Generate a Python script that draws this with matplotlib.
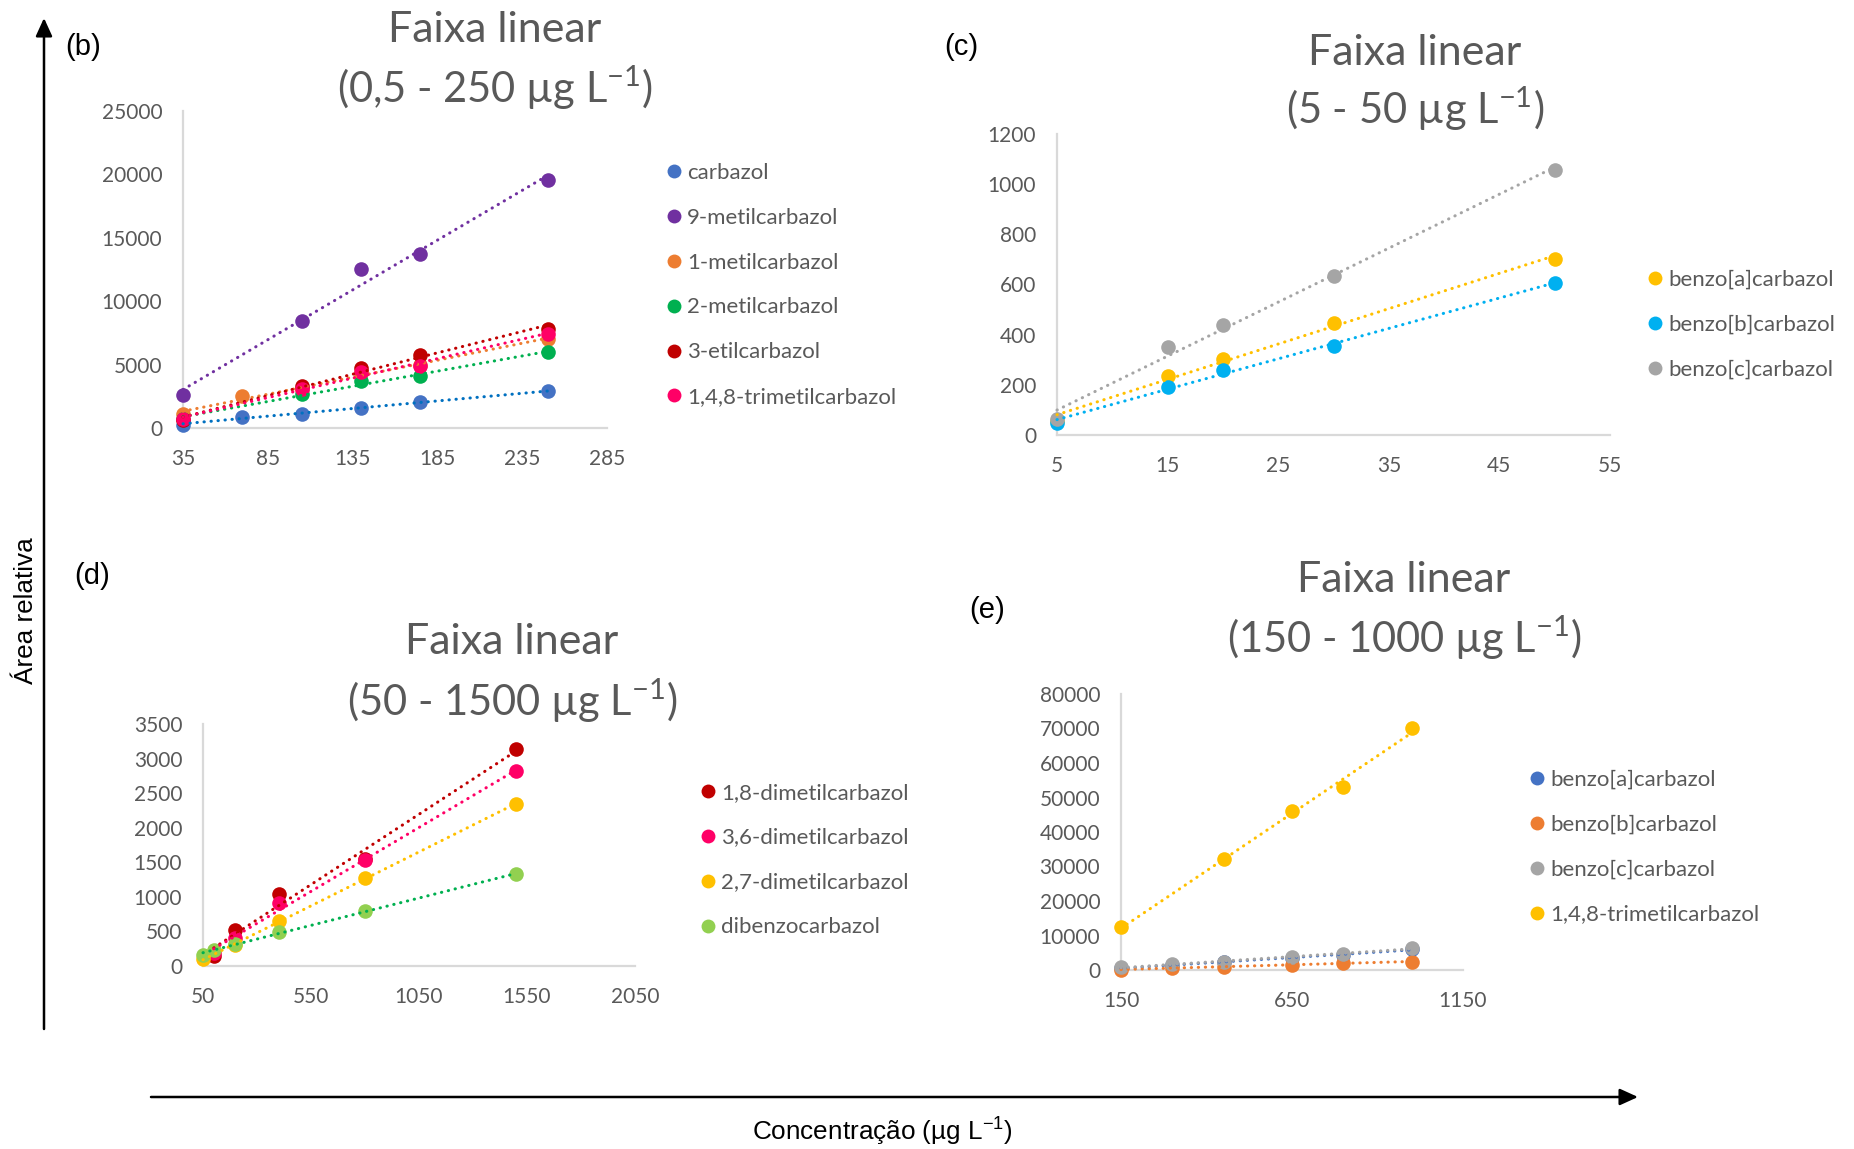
import numpy as np
import matplotlib
matplotlib.use("Agg")
import matplotlib.pyplot as plt
from matplotlib.patches import FancyArrowPatch
from matplotlib.lines import Line2D

# ---------------- data ----------------
# (b) faixa linear 0,5 - 250 ug/L
carbazol_x = [35, 70, 105, 140, 175, 250]
carbazol_y = [260, 870, 1130, 1600, 2030, 2900]
metil9_x = [35, 105, 140, 175, 250]
metil9_y = [2580, 8420, 12530, 13710, 19550]
metil1_x = [35, 70, 105, 140, 175, 250]
metil1_y = [1130, 2500, 3100, 4300, 5000, 7050]
metil2_x = [35, 105, 140, 175, 250]
metil2_y = [740, 2660, 3680, 4100, 5970]
etil3_x = [35, 105, 140, 175, 250]
etil3_y = [600, 3290, 4740, 5740, 7840]
trimetil148_x = [35, 105, 140, 175, 250]
trimetil148_y = [740, 3050, 4420, 4920, 7450]

# (c) faixa linear 5 - 50 ug/L
benzo_c_panel_x = [5, 15, 20, 30, 50]
benzo_a_y = [55, 237, 304, 447, 700]
benzo_b_y = [47, 193, 260, 353, 605]
benzo_c_y = [63, 351, 437, 633, 1057]

# (d) faixa linear 50 - 1500 ug/L
dimetil18_x = [100, 200, 400, 800, 1500]
dimetil18_y = [150, 515, 1045, 1545, 3140]
dimetil36_x = [100, 200, 400, 800, 1500]
dimetil36_y = [190, 410, 905, 1536, 2817]
dimetil27_x = [50, 200, 400, 800, 1500]
dimetil27_y = [96, 300, 650, 1270, 2345]
dibenzo_x = [50, 100, 200, 400, 800, 1500]
dibenzo_y = [160, 226, 322, 496, 799, 1324]

# (e) faixa linear 150 - 1000 ug/L
benzo_e_x = [150, 300, 450, 650, 800, 1000]
benzo_a_e_y = [600, 1500, 2200, 3400, 4400, 6100]
benzo_b_e_y = [100, 580, 970, 1550, 1940, 2430]
benzo_c_e_y = [780, 1750, 2430, 3700, 4670, 6410]
trimetil148_e_x = [150, 450, 650, 800, 1000]
trimetil148_e_y = [12440, 32070, 45970, 52970, 70260]

# ---------------- style ----------------
W, H = 1854, 1149
CHART_FONT = ['Lato', 'DejaVu Sans']
LABEL_FONT = ['Liberation Sans', 'DejaVu Sans']
GREY_TEXT = '#595959'
AXIS_GREY = '#D9D9D9'
TICK_SIZE = 15
LEGEND_SIZE = 16
TITLE_SIZE = 31
SUBTITLE_SIZE = 30

fig = plt.figure(figsize=(W / 100, H / 100), dpi=100)


def fx(px):
    return px / W


def fy(py):
    return 1 - py / H


def make_axes(left, top, right, bottom, xlim, ylim, xticks, yticks):
    ax = fig.add_axes([fx(left), fy(bottom), (right - left) / W, (bottom - top) / H])
    ax.set_xlim(*xlim)
    ax.set_ylim(*ylim)
    ax.set_xticks(xticks)
    ax.set_yticks(yticks)
    for side in ('top', 'right'):
        ax.spines[side].set_visible(False)
    for side in ('left', 'bottom'):
        ax.spines[side].set_color(AXIS_GREY)
        ax.spines[side].set_linewidth(1.6)
    ax.tick_params(length=0, labelsize=TICK_SIZE, labelcolor=GREY_TEXT)
    ax.tick_params(axis='y', pad=15)
    ax.tick_params(axis='x', pad=15)
    for lab in ax.get_xticklabels() + ax.get_yticklabels():
        lab.set_family(CHART_FONT)
    ax.patch.set_alpha(0)
    return ax


def series(ax, x, y, color, trend_color=None):
    ax.plot(x, y, linestyle='none', marker='o', markersize=10.5,
            color=color, markeredgewidth=0, zorder=3, clip_on=False)
    k, b = np.polyfit(x, y, 1)
    xs = np.array([min(x), max(x)], dtype=float)
    ax.plot(xs, k * xs + b, color=trend_color or color, lw=2.2,
            linestyle=(0, (0.1, 2.2)), dash_capstyle='round', zorder=4,
            clip_on=False)


def legend(ax, names, colors, x_px, y_px, spacing=1.12):
    handles = [Line2D([], [], linestyle='none', marker='o', markersize=10,
                      color=c, markeredgewidth=0) for c in colors]
    ax.legend(handles, names, loc='center left',
              bbox_to_anchor=(fx(x_px), fy(y_px)), bbox_transform=fig.transFigure,
              frameon=False, prop={'family': CHART_FONT, 'size': LEGEND_SIZE},
              labelcolor=GREY_TEXT, handlelength=0.55, handletextpad=0.3,
              labelspacing=spacing, borderpad=0, borderaxespad=0)


def title(cx, y1, y2, range_text):
    fig.text(fx(cx), fy(y1), 'Faixa linear', ha='center', va='center',
             fontsize=TITLE_SIZE, family=CHART_FONT, color=GREY_TEXT)
    fig.text(fx(cx), fy(y2), '(' + range_text + r' µg L$^{\mathregular{-1}}$)',
             ha='center', va='center', fontsize=SUBTITLE_SIZE, family=CHART_FONT,
             color=GREY_TEXT)


# ---------------- panel (b) ----------------
ax_b = make_axes(183, 111, 607, 428, (35, 285), (0, 25000),
                 np.arange(35, 286, 50), np.arange(0, 25001, 5000))
series(ax_b, carbazol_x, carbazol_y, '#4472C4', '#0070C0')
series(ax_b, metil9_x, metil9_y, '#7030A0')
series(ax_b, metil1_x, metil1_y, '#ED7D31')
series(ax_b, metil2_x, metil2_y, '#00B050')
series(ax_b, etil3_x, etil3_y, '#C00000')
series(ax_b, trimetil148_x, trimetil148_y, '#FF0066')
legend(ax_b, ['carbazol', '9-metilcarbazol', '1-metilcarbazol', '2-metilcarbazol',
              '3-etilcarbazol', '1,4,8-trimetilcarbazol'],
       ['#4472C4', '#7030A0', '#ED7D31', '#00B050', '#C00000', '#FF0066'], 668, 285)
title(495, 30, 88, '0,5 - 250')

# ---------------- panel (c) ----------------
ax_c = make_axes(1057, 134, 1610, 435, (5, 55), (0, 1200),
                 np.arange(5, 56, 10), np.arange(0, 1201, 200))
series(ax_c, benzo_c_panel_x, benzo_a_y, '#FFC000')
series(ax_c, benzo_c_panel_x, benzo_b_y, '#00B0F0')
series(ax_c, benzo_c_panel_x, benzo_c_y, '#A5A5A5')
legend(ax_c, ['benzo[a]carbazol', 'benzo[b]carbazol', 'benzo[c]carbazol'],
       ['#FFC000', '#00B0F0', '#A5A5A5'], 1649, 325)
title(1415, 53, 109, '5 - 50')

# ---------------- panel (d) ----------------
ax_d = make_axes(203, 724, 635, 966, (50, 2050), (0, 3500),
                 np.arange(50, 2051, 500), np.arange(0, 3501, 500))
series(ax_d, dimetil18_x, dimetil18_y, '#C00000')
series(ax_d, dimetil36_x, dimetil36_y, '#FF0066')
series(ax_d, dimetil27_x, dimetil27_y, '#FFC000')
series(ax_d, dibenzo_x, dibenzo_y, '#92D050', '#00B050')
legend(ax_d, ['1,8-dimetilcarbazol', '3,6-dimetilcarbazol', '2,7-dimetilcarbazol',
              'dibenzocarbazol'],
       ['#C00000', '#FF0066', '#FFC000', '#92D050'], 702, 860)
title(512, 642, 701, '50 - 1500')

# ---------------- panel (e) ----------------
ax_e = make_axes(1121, 694, 1463, 970, (150, 1150), (0, 80000),
                 np.arange(150, 1151, 500), np.arange(0, 80001, 10000))
series(ax_e, benzo_e_x, benzo_a_e_y, '#4472C4')
series(ax_e, benzo_e_x, benzo_b_e_y, '#ED7D31')
series(ax_e, benzo_e_x, benzo_c_e_y, '#A5A5A5')
series(ax_e, trimetil148_e_x, trimetil148_e_y, '#FFC000')
legend(ax_e, ['benzo[a]carbazol', 'benzo[b]carbazol', 'benzo[c]carbazol',
              '1,4,8-trimetilcarbazol'],
       ['#4472C4', '#ED7D31', '#A5A5A5', '#FFC000'], 1531, 847)
title(1404, 580, 638, '150 - 1000')

# ---------------- panel letters ----------------
for letter, (px, py) in {'(b)': (83, 47), '(c)': (961, 47),
                         '(d)': (92, 576), '(e)': (987, 610)}.items():
    fig.text(fx(px), fy(py), letter, ha='center', va='center', fontsize=21,
             family=LABEL_FONT, color='black')

# ---------------- shared axis arrows ----------------
for start, end in [((44, 1029), (44, 18)), ((151, 1097), (1638, 1097))]:
    fig.add_artist(FancyArrowPatch((fx(start[0]), fy(start[1])),
                                   (fx(end[0]), fy(end[1])),
                                   transform=fig.transFigure,
                                   arrowstyle='-|>,head_length=0.55,head_width=0.25',
                                   mutation_scale=20, lw=1.8, color='black',
                                   shrinkA=0, shrinkB=0))

fig.text(fx(26), fy(611), 'Área relativa', rotation=90, ha='center', va='center',
         fontsize=18.8, family=LABEL_FONT, color='black')
fig.text(fx(882), fy(1131), r'Concentração (µg L$^{\mathregular{-1}}$)',
         ha='center', va='center', fontsize=18.8, family=LABEL_FONT, color='black')

fig.savefig('out.png', dpi=100, facecolor='white')
